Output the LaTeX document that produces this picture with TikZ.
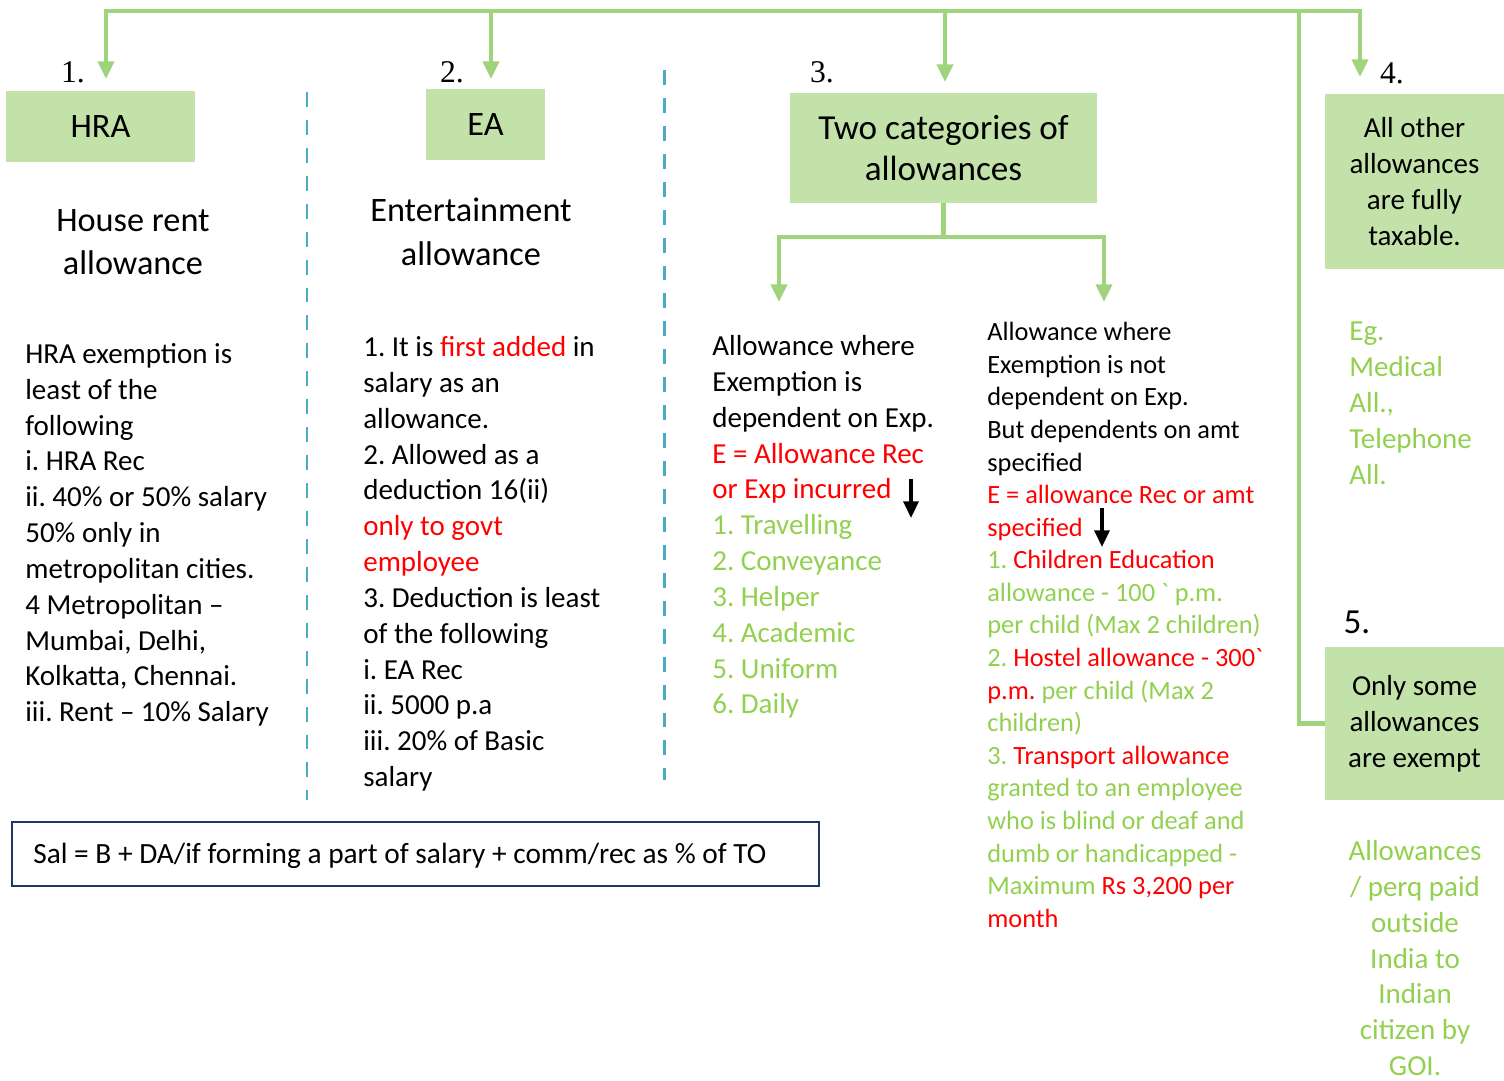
\documentclass[tikz,border=0pt]{standalone}
\usepackage{fontspec}
\setmainfont{Carlito}
\newfontfamily\numfont{Liberation Serif}
\usetikzlibrary{arrows.meta, positioning}
\definecolor{boxgreen}{RGB}{194,226,170}
\definecolor{linegreen}{RGB}{160,212,124}
\definecolor{textgreen}{RGB}{146,208,80}
\definecolor{textred}{RGB}{255,0,0}
\definecolor{divblue}{RGB}{75,172,198}
\definecolor{framenavy}{RGB}{31,56,100}
\newcommand{\rd}[1]{\textcolor{textred}{#1}}
\newcommand{\gn}[1]{\textcolor{textgreen}{#1}}
\frenchspacing
\tikzset{
    branch/.style = {draw=linegreen, line width=2.8pt, line join=miter},
    branch tip/.style = {branch, -{Triangle[width=9pt, length=10pt]}},
    branch tips/.style = {branch, {Triangle[width=9pt, length=10pt]}-{Triangle[width=9pt, length=10pt]}},
    pointer/.style = {draw=black, line width=1.9pt, -{Triangle[width=8.5pt, length=9.5pt]}},
    divider/.style = {draw=divblue, line width=1.7pt, dash pattern=on 8.5pt off 7.4pt},
}
\tikzset{
    head box/.style = {fill=boxgreen, inner sep=0pt, align=center},
    num/.style = {font=\numfont\fontsize{18}{20}\selectfont, inner sep=0pt},
    notes/.style = {anchor=north west, inner sep=0pt, align=left, font=\fontsize{16.5}{20.4}\selectfont},
    small notes/.style = {anchor=north west, inner sep=0pt, align=left, font=\fontsize{15}{18.55}\selectfont},
    title/.style = {anchor=north, inner sep=0pt, align=center, font=\fontsize{19.5}{24.8}\selectfont},
}

\begin{document}
\frenchspacing
\begin{tikzpicture}[x=0.02cm, y=-0.02cm]
            \useasboundingbox (0,0) rectangle (1504,1080);

            \node[head box, minimum width=3.78cm, minimum height=1.42cm, font=\fontsize{19.5}{24}\selectfont] (hra) at (100.5,126.5) {HRA};
            \node[head box, minimum width=2.38cm, minimum height=1.42cm, font=\fontsize{19.5}{24}\selectfont] (ea) at (485.5,124.5) {EA};
            \node[head box, minimum width=6.14cm, minimum height=2.2cm, font=\fontsize{20}{23.8}\selectfont] (two) at (943.5,148) {Two categories of\\allowances};
            \node[head box, minimum width=3.58cm, minimum height=3.5cm, font=\fontsize{16.5}{20.4}\selectfont] (other) at (1414.5,181.5) {All other\\allowances\\are fully\\taxable.};
            \node[head box, minimum width=3.58cm, minimum height=3.06cm, font=\fontsize{16.5}{20.4}\selectfont] (some) at (1414.5,723.5) {Only some\\allowances\\are exempt};

            \node[num] (n1) at (73,72) {1.};
            \node[num] (n2) at (452,72) {2.};
            \node[num] (n3) at (822,72) {3.};
            \node[num] (n4) at (1392,73) {4.};
            \node[inner sep=0pt, font=\fontsize{20}{24}\selectfont] (n5) at (1357,622) {5.};

            \node[title] (hra name) at (133,209) {House rent\\allowance};
            \node[title] (ea name) at (471,198) {Entertainment\\allowance};

            \node[notes] (hra text) at (25,343) {HRA exemption is\\
                least of the\\
                following\\
                i. HRA Rec\\
                ii. 40\% or 50\% salary\\
                50\% only in\\
                metropolitan cities.\\
                4 Metropolitan --\\
                Mumbai, Delhi,\\
                Kolkatta, Chennai.\\
                iii. Rent -- 10\% Salary};
            \node[notes] (ea text) at (363,336) {1. It is \rd{first added} in\\
                salary as an\\
                allowance.\\
                2. Allowed as a\\
                deduction 16(ii)\\
                \rd{only to govt}\\
                \rd{employee}\\
                3. Deduction is least\\
                of the following\\
                i. EA Rec\\
                ii. 5000 p.a\\
                iii. 20\% of Basic\\
                salary};
            \node[notes] (dep text) at (712,335) {Allowance where\\
                Exemption is\\
                dependent on Exp.\\
                \rd{E = Allowance Rec}\\
                \rd{or Exp incurred}\\
                \gn{1. Travelling}\\
                \gn{2. Conveyance}\\
                \gn{3. Helper}\\
                \gn{4. Academic}\\
                \gn{5. Uniform}\\
                \gn{6. Daily}};
            \node[small notes] (fixed text) at (987,322) {Allowance where\\
                Exemption is not\\
                dependent on Exp.\\
                But dependents on amt\\
                specified\\
                \rd{E = allowance Rec or amt}\\
                \rd{specified}\\
                \gn{1. }\rd{Children Education}\\
                \gn{allowance - 100 \textasciigrave\ p.m.}\\
                \gn{per child (Max 2 children)}\\
                \gn{2. }\rd{Hostel allowance - 300\textasciigrave}\\
                \rd{p.m.} \gn{per child (Max 2}\\
                \gn{children)}\\
                \gn{3. }\rd{Transport allowance}\\
                \gn{granted to an employee}\\
                \gn{who is blind or deaf and}\\
                \gn{dumb or handicapped -}\\
                \gn{Maximum} \rd{Rs 3,200 per}\\
                \rd{month}};
            \node[notes, text=textgreen] (eg text) at (1349,322) {Eg.\\
                Medical\\
                All.,\\
                Telephone\\
                All.};
            \node[notes, anchor=north, align=center, text=textgreen] (goi text) at (1415,840) {Allowances\\
                / perq paid\\
                outside\\
                India to\\
                Indian\\
                citizen by\\
                GOI.};

            \node[draw=framenavy, line width=1.1pt, minimum width=16.14cm, minimum height=1.28cm] (sal) at (415.5,854) {};
            \node[anchor=west, inner sep=0pt, font=\fontsize{16.7}{20.4}\selectfont] (sal text) at (33,856) {Sal = B + DA/if forming a part of salary + comm/rec as \% of TO};

            \coordinate (bar w) at (106,11);
            \coordinate (bar e) at (1360,11);
            \coordinate (bar s) at (1299,11);
            \coordinate (tip hra) at (106,79);
            \coordinate (tip ea) at (491,79);
            \coordinate (tip two) at (945,82);
            \coordinate (tip other) at (1360,77);
            \coordinate (fork) at (943.5,237);
            \coordinate (tip dep) at (779,302);
            \coordinate (tip fixed) at (1104,302);
            \coordinate (arr a top) at (911,479);
            \coordinate (arr a end) at (911,518);
            \coordinate (arr b top) at (1102,508);
            \coordinate (arr b end) at (1102,547);

            \draw[divider] (307,92) -- (307,800);
            \draw[divider] (664,70) -- (664,780);

            \draw[branch tips] (tip hra) -- (bar w) -- (bar e) -- (tip other);
            \draw[branch tip] (tip ea |- bar w) -- (tip ea);
            \draw[branch tip] (tip two |- bar w) -- (tip two);
            \draw[branch] (bar s) |- (some.west);
            \draw[branch] (two.south) -- (fork);
            \draw[branch tips] (tip dep) |- (fork) -| (tip fixed);
            \draw[pointer] (arr a top) -- (arr a end);
            \draw[pointer] (arr b top) -- (arr b end);
        \end{tikzpicture}
\end{document}
